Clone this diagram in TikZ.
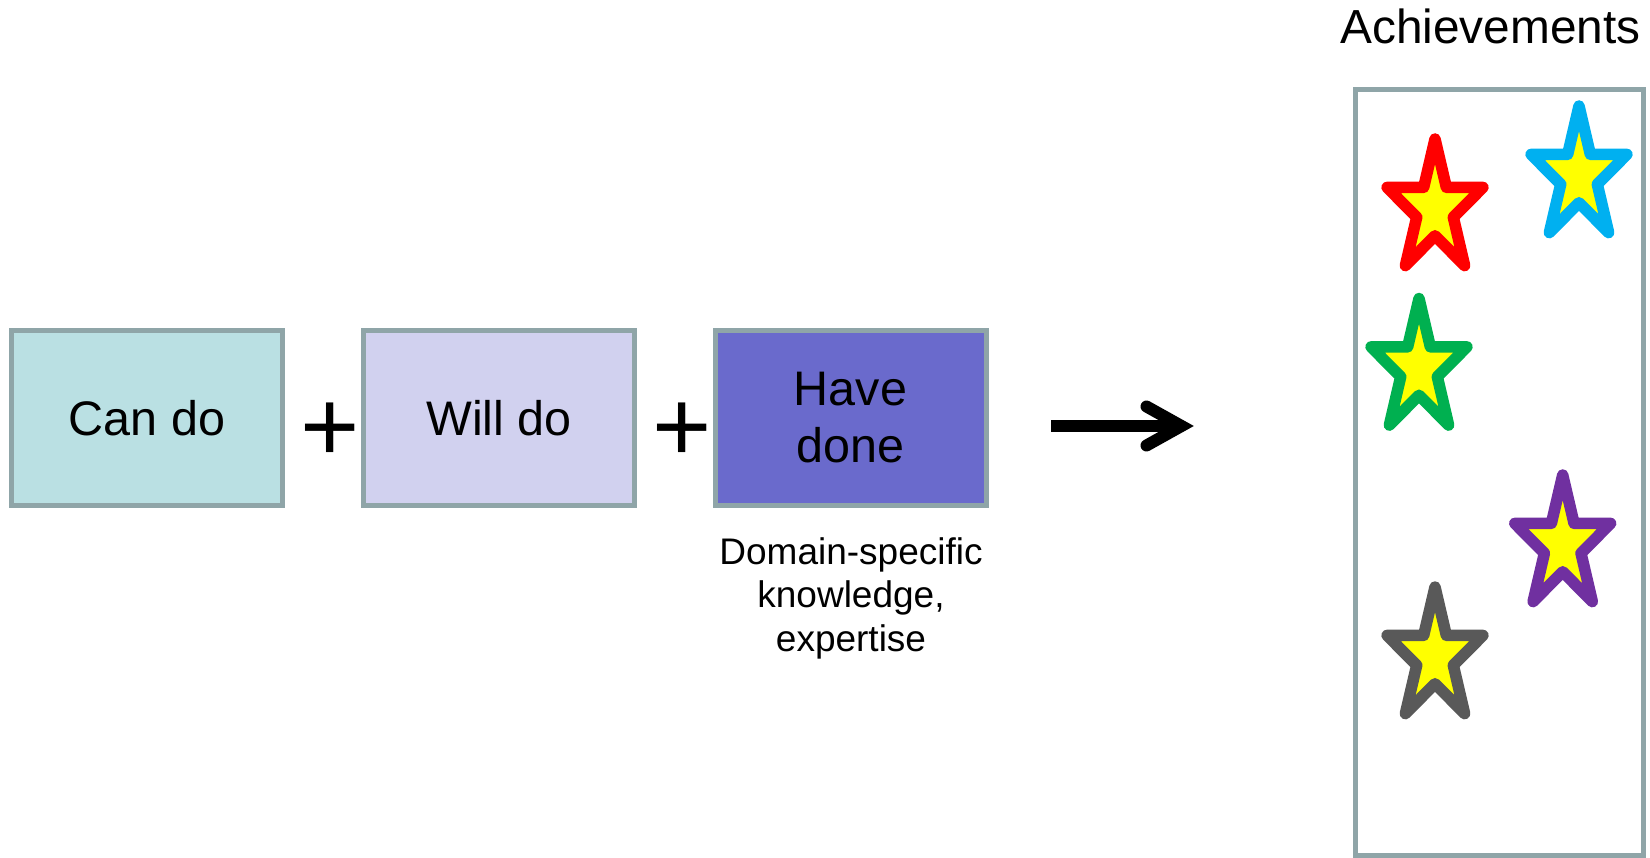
\documentclass[tikz,border=0pt]{standalone}
\usepackage{fontspec}
\setmainfont{Liberation Sans}
\usetikzlibrary{calc}
\definecolor{framec}{RGB}{143,165,168}
\definecolor{canfill}{RGB}{186,224,227}
\definecolor{willfill}{RGB}{209,209,239}
\definecolor{havefill}{RGB}{106,106,204}
\definecolor{starred}{RGB}{255,0,0}
\definecolor{starblue}{RGB}{0,176,240}
\definecolor{stargreen}{RGB}{0,176,80}
\definecolor{starpurple}{RGB}{112,48,160}
\definecolor{stargrey}{RGB}{89,89,89}
\definecolor{staryellow}{RGB}{255,255,0}
\begin{document}
\begin{tikzpicture}[x=1pt,y=-1pt,
  box/.style={draw=framec, line width=5pt, minimum width=271pt, minimum height=175pt,
    inner sep=0pt, align=center, font=\fontsize{48.5}{57}\selectfont},
  plussign/.style={inner sep=0pt, font=\fontsize{101.5}{101.5}\selectfont},
  arrowline/.style={draw=black, line width=12pt},
  achstar/.pic={
    \draw[draw=#1, fill=staryellow, line width=11.5pt, line join=round]
      (0,-70) -- (11.32,-21.63) -- (47.93,-21.63) -- (18.31,8.26) -- (29.62,56.63)
      -- (0,26.74) -- (-29.62,56.63) -- (-18.31,8.26) -- (-47.93,-21.63)
      -- (-11.32,-21.63) -- cycle;
  }]
\useasboundingbox (0,0) rectangle (1650,858);

% three boxes
\node[box, fill=canfill] (can) at (147,418) {Can do};
\node[box, fill=willfill] (will) at (499,418) {Will do};
\node[box, fill=havefill] (have) at (850.5,418) {Have\\done};

% plus signs
\node[plussign] (plusA) at (330.5,431.8) {+};
\node[plussign] (plusB) at (682,431.8) {+};

% caption under third box
\node[anchor=north, inner sep=0pt, align=center, font=\fontsize{37}{43.5}\selectfont]
  (domain) at (851,537) {Domain-specific\\knowledge,\\expertise};

% arrow
\coordinate (arrS) at (1051,426);
\coordinate (arrE) at (1181.5,426);
\draw[arrowline] (arrS) -- ($(arrE)+(-4,0)$);
\draw[arrowline, line cap=round, line join=miter]
  ($(arrE)+(-35,-19.5)$) -- (arrE) -- ($(arrE)+(-35,19.5)$);

% achievements frame
\node[draw=framec, line width=5pt, minimum width=288pt, minimum height=765.5pt, inner sep=0pt]
  (achbox) at (1499,472.75) {};
\node[anchor=base, inner sep=0pt, font=\fontsize{47.8}{56}\selectfont]
  (achlabel) at (1490.5,44) {Achievements};

% stars
\pic (starR) at (1435,209) {achstar=starred};
\pic (starB) at (1579,176) {achstar=starblue};
\pic (starG) at (1419,368.5) {achstar=stargreen};
\pic (starP) at (1562.7,545) {achstar=starpurple};
\pic (starK) at (1435,657) {achstar=stargrey};
\end{tikzpicture}
\end{document}
